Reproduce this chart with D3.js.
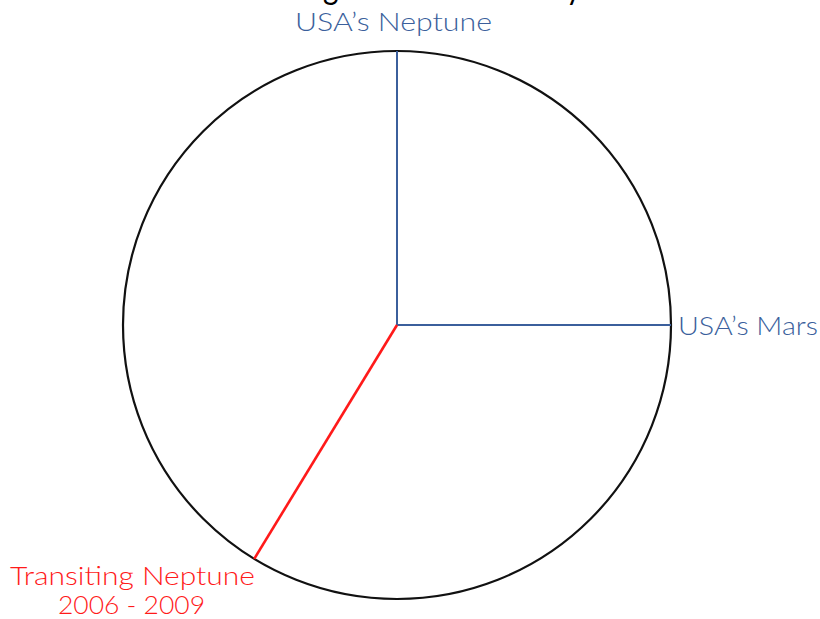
<!DOCTYPE html>
<html>
<head>
<style>
  body { margin: 0; background: #fff; }
  text { font-family: "Lato", "DejaVu Sans", sans-serif; }
</style>
</head>
<body>
<svg id="chart" width="820" height="619"></svg>
<script src="https://d3js.org/d3.v7.min.js"></script>
<script>

// positions on the wheel, degrees counter-clockwise from the east point
var names  = ["USA\u2019s Mars", "USA\u2019s Neptune", "Transiting Neptune"];
var degs   = [0, 90, 238.6];
var colors = ["#3b5f9c", "#3b5f9c", "#ff1a1a"];
var subs   = ["", "", "2006 - 2009"];
var title  = "Angles of USA Destiny";

var svg = d3.select("#chart"),
    cx = 397, cy = 325, radius = 274;

var angle = d3.scaleLinear().domain([0, 360]).range([0, 2 * Math.PI]);
var r = d3.scaleLinear().domain([0, 1]).range([0, radius]);

function px(d, k) { return cx + r(k) * Math.cos(angle(d)); }
function py(d, k) { return cy - r(k) * Math.sin(angle(d)); }

// title sits above the top edge, only the descenders show
var tg = svg.append("g");
var tt = tg.append("text")
    .attr("x", 0).attr("y", -1)
    .attr("font-size", 34)
    .attr("fill", "#000")
    .text(title);
var gx = tt.node().getStartPositionOfChar(2).x,
    yx = tt.node().getStartPositionOfChar(title.length - 1).x;
var s = (566 - 323) / (yx - gx);
tg.attr("transform", "translate(" + (323 - gx * s) + ",0) scale(" + s + ",1)");

svg.append("circle")
    .attr("cx", cx).attr("cy", cy).attr("r", radius)
    .attr("fill", "none")
    .attr("stroke", "#111")
    .attr("stroke-width", 2.2);

var data = names.map(function(n, i) {
  return {name: n, deg: degs[i], color: colors[i], sub: subs[i]};
});

svg.selectAll("line.ray")
  .data(data)
  .enter().append("line")
    .attr("class", "ray")
    .attr("x1", cx).attr("y1", cy)
    .attr("x2", function(d) { return px(d.deg, 1); })
    .attr("y2", function(d) { return py(d.deg, 1); })
    .attr("stroke", function(d) { return d.color; })
    .attr("stroke-width", function(d) { return d.sub ? 2.6 : 2; });

// labels, widths stretched to the wide geometric face of the original
var lab = svg.selectAll("g.lab")
  .data(data)
  .enter().append("g")
    .attr("class", "lab");

lab.append("text")
    .attr("font-size", 26)
    .attr("font-weight", 300)
    .attr("fill", function(d) { return d.color; })
    .attr("lengthAdjust", "spacingAndGlyphs")
    .attr("textLength", function(d) { return d.deg == 0 ? 140 : d.deg == 90 ? 197 : 245; })
    .attr("x", function(d) {
      if (d.deg == 0) return 678;
      if (d.deg == 90) return 295;
      return 10;
    })
    .attr("y", function(d) {
      if (d.deg == 0) return 335;
      if (d.deg == 90) return 31;
      return 585;
    })
    .text(function(d) { return d.name; });

lab.filter(function(d) { return d.sub; })
  .append("text")
    .attr("font-size", 26)
    .attr("font-weight", 300)
    .attr("fill", function(d) { return d.color; })
    .attr("lengthAdjust", "spacingAndGlyphs")
    .attr("textLength", 147)
    .attr("x", 58).attr("y", 614)
    .text(function(d) { return d.sub; });

</script>
</body>
</html>
